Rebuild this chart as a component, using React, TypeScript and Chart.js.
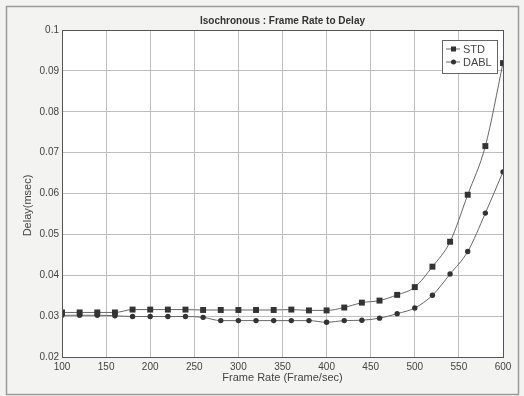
import React, { useEffect, useRef } from "react";
import { Chart, registerables } from "chart.js";

Chart.register(...registerables);

const frameRates = [100, 120, 140, 160, 180, 200, 220, 240, 260, 280, 300, 320, 340, 360, 380, 400, 420, 440, 460, 480, 500, 520, 540, 560, 580, 600];
const stdDelay = [0.0309, 0.0309, 0.0309, 0.0309, 0.0316, 0.0316, 0.0316, 0.0316, 0.0315, 0.0315, 0.0315, 0.0315, 0.0315, 0.0316, 0.0314, 0.0314, 0.0321, 0.0333, 0.0338, 0.0352, 0.0371, 0.0421, 0.0482, 0.0597, 0.0716, 0.0919];
const dablDelay = [0.0302, 0.0302, 0.0302, 0.0301, 0.0299, 0.0299, 0.0299, 0.0299, 0.0297, 0.0289, 0.0289, 0.0289, 0.0289, 0.0289, 0.0289, 0.0285, 0.0289, 0.029, 0.0295, 0.0306, 0.032, 0.0351, 0.0403, 0.0458, 0.0552, 0.0653];
const seriesNames = ["STD", "DABL"];
const chartTitle = "Isochronous : Frame Rate to Delay";
const xTitle = "Frame Rate (Frame/sec)";
const yTitle = "Delay(msec)";

const FONT = "'Liberation Sans', Arial, sans-serif";

export default function App() {
  const ref = useRef<HTMLCanvasElement | null>(null);

  useEffect(() => {
    document.body.style.margin = "0";
    const canvas = ref.current!;
    const decor = {
      id: "decor",
      beforeDraw(chart: any) {
        const { ctx, chartArea: a } = chart;
        ctx.save();
        ctx.fillStyle = "#f3f3f1";
        ctx.fillRect(0, 0, chart.width, chart.height);
        ctx.strokeStyle = "#9a9a9a";
        ctx.lineWidth = 1.5;
        ctx.strokeRect(6.5, 6.5, chart.width - 12, chart.height - 8);
        ctx.fillStyle = "#ffffff";
        ctx.fillRect(a.left, a.top, a.right - a.left, a.bottom - a.top);
        ctx.restore();
      },
      afterDraw(chart: any) {
        const { ctx, chartArea: a } = chart;
        ctx.save();
        ctx.strokeStyle = "#555";
        ctx.lineWidth = 1;
        ctx.strokeRect(a.left + 0.5, a.top + 0.5, a.right - a.left, a.bottom - a.top);
        const cx = (a.left + a.right) / 2;
        ctx.fillStyle = "#333";
        ctx.textAlign = "center";
        ctx.textBaseline = "middle";
        ctx.font = `bold 10px ${FONT}`;
        ctx.fillText(chartTitle, cx, a.top - 9);
        ctx.font = `11px ${FONT}`;
        ctx.fillStyle = "#444";
        ctx.fillText(xTitle, cx, a.bottom + 21);
        ctx.save();
        ctx.translate(28, (a.top + a.bottom) / 2 + 12);
        ctx.rotate(-Math.PI / 2);
        ctx.fillText(yTitle, 0, 0);
        ctx.restore();
        // legend
        const bx = a.right - 61, by = a.top + 10, bw = 55, bh = 33;
        ctx.fillStyle = "#fff";
        ctx.fillRect(bx, by, bw, bh);
        ctx.strokeStyle = "#666";
        ctx.strokeRect(bx + 0.5, by + 0.5, bw, bh);
        chart.data.datasets.forEach((ds: any, i: number) => {
          const y = by + 9 + i * 13;
          ctx.strokeStyle = ds.borderColor;
          ctx.lineWidth = 1;
          ctx.beginPath();
          ctx.moveTo(bx + 4, y);
          ctx.lineTo(bx + 18, y);
          ctx.stroke();
          ctx.fillStyle = ds.pointBackgroundColor;
          if (ds.pointStyle === "rect") ctx.fillRect(bx + 9, y - 2.5, 5, 5);
          else {
            ctx.beginPath();
            ctx.arc(bx + 11.5, y, 2.5, 0, Math.PI * 2);
            ctx.fill();
          }
          ctx.fillStyle = "#444";
          ctx.textAlign = "left";
          ctx.font = `11px ${FONT}`;
          ctx.fillText(ds.label, bx + 21, y + 0.5);
        });
        ctx.restore();
      },
    };
    const chart = new Chart(canvas, {
      type: "line",
      data: {
        datasets: [
          {
            label: seriesNames[0],
            data: frameRates.map((x, i) => ({ x, y: stdDelay[i] })),
            borderColor: "#666",
            borderWidth: 1,
            pointStyle: "rect",
            pointRadius: 4.2,
            pointBackgroundColor: "#333",
            pointBorderWidth: 0,
            cubicInterpolationMode: "monotone",
          },
          {
            label: seriesNames[1],
            data: frameRates.map((x, i) => ({ x, y: dablDelay[i] })),
            borderColor: "#666",
            borderWidth: 1,
            pointStyle: "circle",
            pointRadius: 2.7,
            pointBackgroundColor: "#333",
            pointBorderWidth: 0,
            cubicInterpolationMode: "monotone",
          },
        ],
      } as any,
      options: {
        animation: false,
        responsive: false,
        layout: { padding: { left: 0, right: 21, top: 30, bottom: 0 } },
        plugins: { legend: { display: false }, title: { display: false }, tooltip: { enabled: false } },
        scales: {
          x: {
            type: "linear",
            min: 100,
            max: 600,
            afterFit: (s: any) => { s.height = 39; },
            ticks: { stepSize: 50, padding: 4, color: "#444", font: { family: FONT, size: 10 }, maxRotation: 0 },
            grid: { color: "#bdbdbd", drawTicks: false },
            border: { display: false },
          },
          y: {
            min: 0.02,
            max: 0.1,
            afterFit: (s: any) => { s.width = 62; },
            ticks: {
              stepSize: 0.01,
              padding: 3,
              color: "#444",
              font: { family: FONT, size: 10 },
              callback: (v: any) => String(Number(Number(v).toFixed(3))),
            },
            grid: { color: "#bdbdbd", drawTicks: false },
            border: { display: false },
          },
        },
      } as any,
      plugins: [decor],
    });
    return () => chart.destroy();
  }, []);

  return <canvas ref={ref} width={524} height={396} style={{ display: "block" }} />;
}
